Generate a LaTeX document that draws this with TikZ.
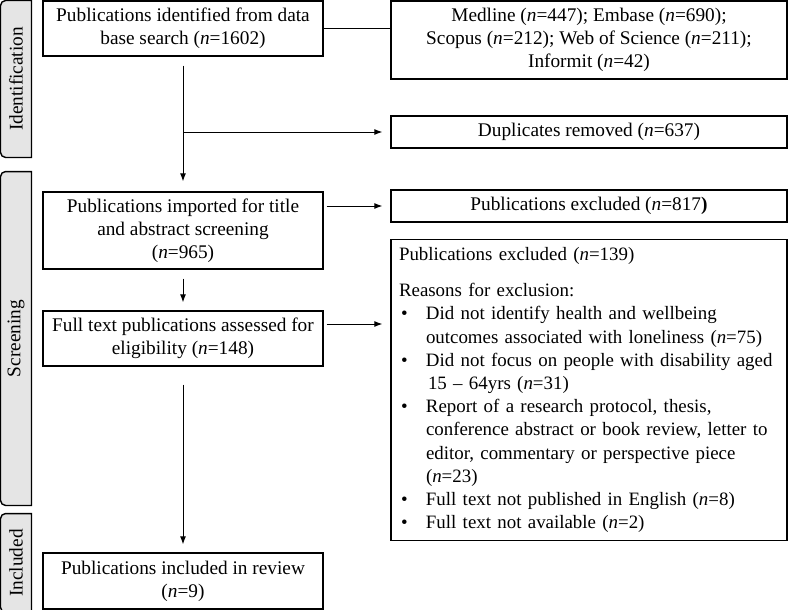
\documentclass[tikz,border=0pt]{standalone}
\usepackage{fontspec}
\setmainfont{Liberation Serif}
\usepackage {tikz}
\usetikzlibrary {positioning}
\usetikzlibrary{arrows.meta}
\usetikzlibrary{backgrounds}
\tikzset{
    flowbox/.style = {rectangle, draw, line width=1.4pt, align=center, inner sep=2pt},
    sidelabel/.style = {rectangle, inner sep=0pt, minimum width=30pt},
    sideframe/.style = {draw, fill=gray!20, line width=1.4pt},
    reason/.style = {flowbox, align=left, text width=380pt, inner sep=8pt,
        font=\fontsize{18.9}{23.2}\selectfont}}
\newcommand{\nn}[1]{(\textit{n}=#1)}
\newcommand{\bul}{\par\hangindent=27pt\hangafter=1\noindent\makebox[27pt][l]{\hspace{2pt}\textbullet}}

\begin{document}
\begin{tikzpicture}[-{Latex[length=8pt,width=6pt]}, x=1pt, y=1pt, on grid,
    line width=0.9pt, font=\fontsize{19.3}{23}\selectfont
    ]
    \useasboundingbox (0,0) rectangle (788,-610);
    \node (pubid) [flowbox, minimum width=280pt, minimum height=55pt] at (183,-28.5)
        {Publications identified from data\\base search \nn{1602}};
    \node (dbs) [flowbox, minimum width=396pt, minimum height=78pt, below right = 11.5pt and 406pt of pubid]
        {Medline \nn{447}; Embase \nn{690};\\Scopus \nn{212}; Web of Science \nn{211};\\Informit \nn{42}};
    \node (dupl) [flowbox, minimum width=396pt, minimum height=32pt, below = 92pt of dbs]
        {Duplicates removed \nn{637}};
    \node (screen) [flowbox, minimum width=280pt, minimum height=77pt, below = 202pt of pubid]
        {Publications imported for title\\and abstract screening\\\nn{965}};
    \node (exclA) [flowbox, minimum width=396pt, minimum height=32pt, below = 74pt of dupl]
        {Publications excluded (\textit{n}=817\textbf{)}};
    \node (fulltext) [flowbox, minimum width=280pt, minimum height=55pt, below = 108pt of screen]
        {Full text publications assessed for\\eligibility \nn{148}};
    \node (exclB) [reason, minimum height=300pt, below = 184pt of exclA]
        {Publications excluded \nn{139}\par\vspace{13pt}
        Reasons for exclusion:
        \bul Did not identify health and wellbeing\break outcomes associated with loneliness \nn{75}
        \bul Did not focus on people with disability aged\break \hspace*{2pt}15 -- 64yrs \nn{31}
        \bul Report of a research protocol, thesis,\break conference abstract or book review, letter to\break editor, commentary or perspective piece\break \nn{23}
        \bul Full text not published in English \nn{8}
        \bul Full text not available \nn{2}\par};
    \node (incl) [flowbox, minimum width=280pt, minimum height=56pt, below = 242.5pt of fulltext]
        {Publications included in review\\\nn{9}};

    \node (identlab) [sidelabel, minimum height=156pt] at (16,-79) {\rotatebox{90}{Identification}};
    \node (screenlab) [sidelabel, minimum height=333pt] at (16,-338.5) {\rotatebox{90}{Screening}};
    \node (incllab) [sidelabel, minimum height=98pt] at (16,-563) {\rotatebox{90}{Included}};
    \begin{scope}[on background layer]
    \foreach \s in {identlab, screenlab, incllab}
        \draw[sideframe, -] (\s.north east) [rounded corners=5pt] -- (\s.north west) -- (\s.south west) [sharp corners] -- (\s.south east) -- cycle;
    \end{scope}

    \coordinate (split) at (pubid |- dupl);
    \coordinate (toreason) at ([yshift=14.5pt]fulltext.east);
    \draw[-] (pubid.east) -- (pubid.east -| dbs.west);
    \draw[shorten <=9pt, shorten >=10pt] (pubid) -- (screen);
    \draw[shorten >=8pt] (split) -- (dupl);
    \draw[shorten <=3pt, shorten >=8pt] (screen.east |- exclA) -- (exclA);
    \draw[shorten <=9pt, shorten >=8pt] (screen) -- (fulltext);
    \draw[shorten <=3pt, shorten >=8pt] (toreason) -- (toreason -| exclB.west);
    \draw[shorten <=18pt, shorten >=8pt] (fulltext) -- (incl);
    \end{tikzpicture}
\end{document}
